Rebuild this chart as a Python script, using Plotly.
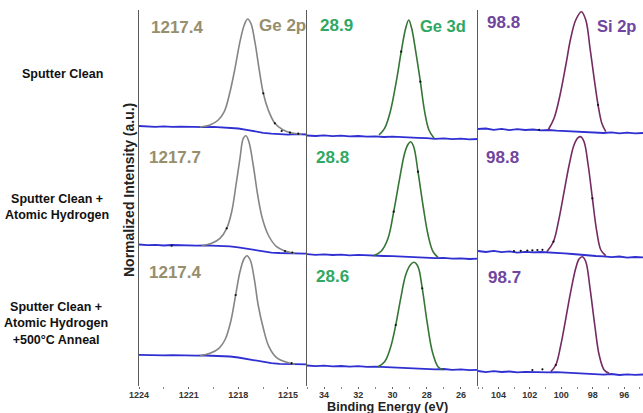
import plotly.graph_objects as go
from plotly.subplots import make_subplots

# ---------------- data ----------------
regions = ["Ge 2p", "Ge 3d", "Si 2p"]
conditions = ["Sputter Clean",
              "Sputter Clean +<br>Atomic Hydrogen",
              "Sputter Clean +<br>Atomic Hydrogen<br>+500°C Anneal"]
ge2p_peaks = ["1217.4", "1217.7", "1217.4"]
ge3d_peaks = ["28.9", "28.8", "28.6"]
si2p_peaks = ["98.8", "98.8", "98.7"]

ge2p_ticks = [1224, 1221, 1218, 1215]
ge3d_ticks = [34, 32, 30, 28, 26]
si2p_ticks = [104, 102, 100, 98, 96]

# --- Ge 2p fits (energy eV, normalized intensity, stacked) ---
ge2p_fit_e1 = [1220.32, 1219.71, 1219.21, 1218.85, 1218.50, 1218.20, 1217.90, 1217.64, 1217.44,
               1217.24, 1217.00, 1216.75, 1216.49, 1216.19, 1215.79, 1215.29, 1214.68, 1214.17]
ge2p_fit_i1 = [2.59, 2.61, 2.66, 2.743, 2.943, 3.177, 3.443, 3.61, 3.67,
               3.627, 3.443, 3.177, 2.927, 2.76, 2.627, 2.56, 2.527, 2.517]
ge2p_fit_e2 = [1220.21, 1219.61, 1219.11, 1218.70, 1218.40, 1218.14, 1217.90, 1217.70, 1217.54,
               1217.36, 1217.10, 1216.83, 1216.55, 1216.19, 1215.69, 1215.18, 1214.58]
ge2p_fit_i2 = [1.403, 1.427, 1.477, 1.577, 1.743, 2.01, 2.277, 2.477, 2.503,
               2.443, 2.21, 1.91, 1.677, 1.51, 1.393, 1.35, 1.327]
ge2p_fit_e3 = [1220.32, 1219.71, 1219.17, 1218.81, 1218.46, 1218.16, 1217.90, 1217.66, 1217.48,
               1217.28, 1217.04, 1216.80, 1216.49, 1216.15, 1215.69, 1215.08, 1214.58]
ge2p_fit_i3 = [0.303, 0.327, 0.377, 0.46, 0.643, 0.91, 1.143, 1.27, 1.303,
               1.26, 1.077, 0.81, 0.577, 0.393, 0.283, 0.237, 0.217]

# --- Ge 3d fits ---
ge3d_fit_e1 = [30.79, 30.46, 30.13, 29.78, 29.49, 29.23, 29.05, 28.88, 28.64, 28.37, 28.12, 27.87, 27.57]
ge3d_fit_i1 = [2.51, 2.577, 2.743, 3.043, 3.343, 3.577, 3.66, 3.577, 3.343, 3.043, 2.743, 2.56, 2.477]
ge3d_fit_e2 = [31.10, 30.65, 30.26, 29.93, 29.58, 29.29, 29.09, 28.94, 28.76, 28.51, 28.22, 27.92, 27.63, 27.34]
ge3d_fit_i2 = [1.303, 1.35, 1.477, 1.743, 2.077, 2.327, 2.417, 2.443, 2.393, 2.143, 1.81, 1.51, 1.343, 1.287]
ge3d_fit_e3 = [30.85, 30.46, 30.13, 29.81, 29.52, 29.23, 28.96, 28.74, 28.51, 28.26, 27.98, 27.67, 27.34, 27.05]
ge3d_fit_i3 = [0.193, 0.243, 0.377, 0.61, 0.877, 1.11, 1.21, 1.237, 1.193, 0.977, 0.643, 0.343, 0.193, 0.163]

# --- Si 2p fits ---
si2p_fit_e1 = [100.84, 100.46, 100.08, 99.71, 99.40, 99.08, 98.72, 98.44, 98.17, 97.91, 97.66, 97.42, 97.17]
si2p_fit_i1 = [2.56, 2.677, 2.91, 3.21, 3.477, 3.66, 3.743, 3.66, 3.377, 3.077, 2.81, 2.627, 2.543]
si2p_fit_e2 = [100.92, 100.50, 100.14, 99.82, 99.50, 99.19, 98.93, 98.76, 98.55, 98.29, 98.02, 97.74, 97.48, 97.17]
si2p_fit_i2 = [1.343, 1.443, 1.677, 1.943, 2.21, 2.41, 2.483, 2.493, 2.443, 2.21, 1.877, 1.543, 1.36, 1.303]
si2p_fit_e3 = [100.67, 100.35, 100.03, 99.71, 99.40, 99.08, 98.87, 98.66, 98.44, 98.17, 97.87, 97.59, 97.27, 96.96]
si2p_fit_i3 = [0.143, 0.21, 0.41, 0.677, 0.943, 1.177, 1.27, 1.293, 1.243, 0.977, 0.61, 0.31, 0.16, 0.127]

# --- backgrounds / raw baselines (blue) ---
ge2p_bg_e = [1224, 1223.5, 1223, 1222.5, 1222, 1221.5, 1221, 1220.5, 1220, 1219.5, 1219,
             1218.5, 1218, 1217.5, 1217, 1216.5, 1216, 1215.5, 1215, 1214.5, 1214, 1213.85]
ge2p_bg_i1 = [2.60, 2.595, 2.592, 2.596, 2.591, 2.594, 2.59, 2.593, 2.589, 2.591, 2.588,
              2.584, 2.575, 2.562, 2.546, 2.532, 2.524, 2.519, 2.514, 2.518, 2.513, 2.515]
ge2p_bg_i2 = [1.415, 1.408, 1.412, 1.405, 1.41, 1.406, 1.409, 1.404, 1.407, 1.403, 1.402,
              1.396, 1.386, 1.372, 1.356, 1.342, 1.334, 1.33, 1.326, 1.329, 1.324, 1.326]
ge2p_bg_i3 = [0.312, 0.308, 0.31, 0.306, 0.309, 0.305, 0.307, 0.303, 0.305, 0.302, 0.3,
              0.295, 0.285, 0.27, 0.253, 0.238, 0.228, 0.222, 0.218, 0.22, 0.215, 0.216]

ge3d_bg_e = [35, 34.5, 34, 33.5, 33, 32.5, 32, 31.5, 31, 30.5, 30, 29.5, 29, 28.5, 28,
             27.5, 27, 26.5, 26, 25.5, 25]
ge3d_bg_i1 = [2.505, 2.50, 2.507, 2.498, 2.503, 2.496, 2.50, 2.494, 2.497, 2.49, 2.493,
              2.487, 2.485, 2.482, 2.478, 2.472, 2.476, 2.468, 2.473, 2.466, 2.47]
ge3d_bg_i2 = [1.318, 1.312, 1.316, 1.31, 1.314, 1.307, 1.311, 1.305, 1.306, 1.30, 1.298,
              1.293, 1.29, 1.286, 1.283, 1.278, 1.281, 1.274, 1.277, 1.27, 1.273]
ge3d_bg_i3 = [0.205, 0.198, 0.203, 0.196, 0.2, 0.194, 0.198, 0.192, 0.194, 0.19, 0.188,
              0.184, 0.18, 0.176, 0.172, 0.166, 0.17, 0.162, 0.166, 0.158, 0.162]

si2p_bg_e = [105.3, 104.8, 104.3, 103.8, 103.3, 102.8, 102.3, 101.8, 101.3, 100.8, 100.3,
             99.8, 99.3, 98.8, 98.3, 97.8, 97.3, 96.8, 96.3, 95.8, 95.3, 94.8]
si2p_bg_i1 = [2.57, 2.575, 2.562, 2.572, 2.558, 2.568, 2.56, 2.565, 2.556, 2.56, 2.553,
              2.55, 2.545, 2.54, 2.537, 2.533, 2.53, 2.536, 2.527, 2.534, 2.526, 2.53]
si2p_bg_i2 = [1.35, 1.34, 1.352, 1.338, 1.346, 1.334, 1.342, 1.336, 1.34, 1.333, 1.33,
              1.326, 1.32, 1.312, 1.306, 1.30, 1.296, 1.288, 1.295, 1.283, 1.29, 1.286]
si2p_bg_i3 = [0.15, 0.138, 0.148, 0.14, 0.145, 0.136, 0.142, 0.138, 0.14, 0.136, 0.138,
              0.134, 0.13, 0.126, 0.123, 0.12, 0.114, 0.12, 0.11, 0.117, 0.112, 0.115]

# --- raw data points visible around the fits (black dots) ---
ge2p_dot_e = [1215.79, 1215.38, 1214.88, 1214.38, 1216.49, 1222.03, 1218.70, 1215.18, 1214.74, 1214.78, 1218.16]
ge2p_dot_i = [2.627, 2.55, 2.533, 2.523, 2.927, 1.403, 1.577, 1.35, 1.335, 0.228, 0.91]
ge3d_dot_e = [29.49, 28.37, 29.93, 28.51, 29.81, 28.26]
ge3d_dot_i = [3.343, 3.043, 1.743, 2.143, 0.61, 0.977]
si2p_dot_e = [101.41, 97.66, 103.01, 102.58, 102.16, 101.84, 101.52, 101.2, 100.50, 98.02,
              101.84, 101.2, 100.35]
si2p_dot_i = [2.562, 2.81, 1.35, 1.352, 1.355, 1.356, 1.36, 1.362, 1.443, 1.877,
              0.16, 0.167, 0.21]

# ---------------- figure ----------------
W, H = 643, 413
ML, MT, MB = 139, 10, 27
PW, PH = W - ML, H - MT - MB

def paper(xp, yp):
    return (xp - ML) / PW, (H - MB - yp) / PH

cols = [
    dict(fits=[(ge2p_fit_e1, ge2p_fit_i1), (ge2p_fit_e2, ge2p_fit_i2), (ge2p_fit_e3, ge2p_fit_i3)],
         bg_e=ge2p_bg_e, bg=[ge2p_bg_i1, ge2p_bg_i2, ge2p_bg_i3],
         dots=(ge2p_dot_e, ge2p_dot_i), color="#858585", rng=[1224, 1213.85],
         ticks=ge2p_ticks, minor=1.5, tick0=1224),
    dict(fits=[(ge3d_fit_e1, ge3d_fit_i1), (ge3d_fit_e2, ge3d_fit_i2), (ge3d_fit_e3, ge3d_fit_i3)],
         bg_e=ge3d_bg_e, bg=[ge3d_bg_i1, ge3d_bg_i2, ge3d_bg_i3],
         dots=(ge3d_dot_e, ge3d_dot_i), color="#357535", rng=[35, 25],
         ticks=ge3d_ticks, minor=1, tick0=34),
    dict(fits=[(si2p_fit_e1, si2p_fit_i1), (si2p_fit_e2, si2p_fit_i2), (si2p_fit_e3, si2p_fit_i3)],
         bg_e=si2p_bg_e, bg=[si2p_bg_i1, si2p_bg_i2, si2p_bg_i3],
         dots=(si2p_dot_e, si2p_dot_i), color="#742a62", rng=[105.3, 94.8],
         ticks=si2p_ticks, minor=1, tick0=104),
]

widths = [168, 171, 165]
fig = make_subplots(rows=1, cols=3, horizontal_spacing=0,
                    column_widths=[w / sum(widths) for w in widths])

BLUE = "#2f2fd2"
for c, cd in enumerate(cols, start=1):
    for bgi in cd["bg"]:
        fig.add_trace(go.Scatter(x=cd["bg_e"], y=bgi, mode="lines",
                                 line=dict(color=BLUE, width=1.8), showlegend=False,
                                 hoverinfo="skip"), row=1, col=c)
    for fe, fi in cd["fits"]:
        fig.add_trace(go.Scatter(x=fe, y=fi, mode="lines",
                                 line=dict(color=cd["color"], width=1.6, shape="spline", smoothing=1.0),
                                 showlegend=False), row=1, col=c)
    fig.add_trace(go.Scatter(x=cd["dots"][0], y=cd["dots"][1], mode="markers",
                             marker=dict(color="#111111", size=2.2), showlegend=False),
                  row=1, col=c)
    fig.update_xaxes(range=cd["rng"], tickmode="array", tickvals=cd["ticks"],
                     ticks="outside", ticklen=2, tickcolor="#666", tickwidth=1,
                     ticklabelstandoff=-2,
                     minor=dict(dtick=cd["minor"], tick0=cd["tick0"], ticks="outside",
                                ticklen=2, tickcolor="#888"),
                     tickfont=dict(family="Liberation Sans", size=9, color="#333333", weight="bold"),
                     showline=False, showgrid=False, zeroline=False, row=1, col=c)
    fig.update_yaxes(range=[0, 3.76], showticklabels=False, ticks="", showgrid=False,
                     zeroline=False, showline=True, linecolor="#5a5a5a", linewidth=1.2,
                     row=1, col=c)

ann = []
def add_text(text, xp, yp, size, color, angle=0):
    x, y = paper(xp, yp)
    ann.append(dict(text=text, x=x, y=y, xref="paper", yref="paper", showarrow=False,
                    xanchor="center", yanchor="middle", textangle=angle,
                    font=dict(family="Liberation Sans", size=size, color=color, weight="bold")))

C_GE2P, C_GE3D, C_SI2P = "#968e6c", "#2fa863", "#6f45a0"
# region titles
add_text(regions[0], 282, 26, 17, C_GE2P)
add_text(regions[1], 443, 26, 16.5, C_GE3D)
add_text(regions[2], 616, 26, 16.5, C_SI2P)
# peak labels
for lab, (xp, yp) in zip(ge2p_peaks, [(177.5, 28), (174.5, 157.5), (175, 272.5)]):
    add_text(lab, xp, yp, 17, C_GE2P)
for lab, (xp, yp) in zip(ge3d_peaks, [(336.7, 26), (332, 157), (332, 276)]):
    add_text(lab, xp, yp, 17, C_GE3D)
for lab, (xp, yp) in zip(si2p_peaks, [(503, 23), (502, 157), (504.5, 277.5)]):
    add_text(lab, xp, yp, 17, C_SI2P)
# row labels
for lab, (xp, yp) in zip(conditions, [(62, 74), (56.5, 207), (56, 323)]):
    add_text(lab, xp, yp, 12.5, "#111111")
# axis titles
add_text("Binding Energy (eV)", 387.5, 407, 12.7, "#222222")
add_text("Normalized Intensity (a.u.)", 129, 190, 14, "#222222", angle=-90)

fig.update_layout(width=W, height=H, margin=dict(l=ML, r=0, t=MT, b=MB, pad=0),
                  plot_bgcolor="white", paper_bgcolor="white", annotations=ann,
                  showlegend=False)
fig.write_html("out.html", config={"displayModeBar": False},
               post_script="document.body.style.margin='0';document.body.style.overflow='hidden';")
